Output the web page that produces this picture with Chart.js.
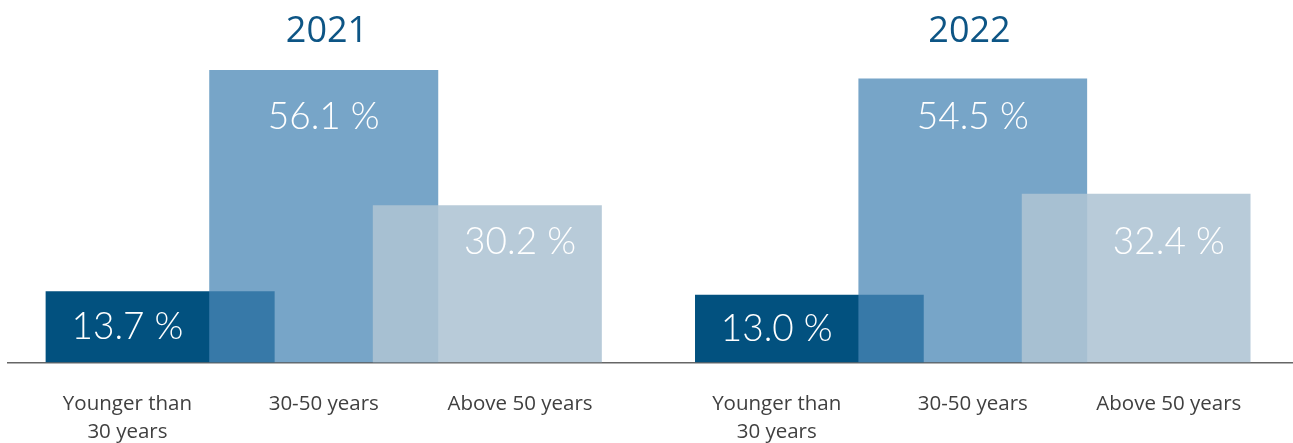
<!DOCTYPE html>
<html>
<head>
<meta charset="utf-8">
<title>Employees by age group</title>
<script src="https://cdn.jsdelivr.net/npm/chart.js@4.4.1/dist/chart.umd.min.js"></script>
<style>
  html, body { margin: 0; padding: 0; background: #fff; }
  #wrap { display: flex; width: 1293px; height: 443px; }
  .box { position: relative; height: 443px; }
  #box2021 { width: 646px; }
  #box2022 { width: 647px; }
</style>
</head>
<body>
<div id="wrap">
  <div class="box" id="box2021"><canvas id="chart2021"></canvas></div>
  <div class="box" id="box2022"><canvas id="chart2022"></canvas></div>
</div>
<script>
// data
const years = ["2021", "2022"];
const ageGroups = [["Younger than", "30 years"], ["30-50 years"], ["Above 50 years"]];
const share2021 = [13.7, 56.1, 30.2];
const share2022 = [13.0, 54.5, 32.4];

// dark solid, then two see-through blues laid over it
const barColors = ["#02517f", "rgba(74,135,182,0.75)", "rgba(174,196,212,0.875)"];
const BAR_RATIO = 1.4; // bars wider than their slot -> they overlap

// labels sit in the middle of the part of each bar that is not covered
function visibleCenter(i, n) {
  const s = (BAR_RATIO - 1) / 2;
  if (i === 0) return i - s;
  if (i === n - 1) return i + s;
  return i;
}

// value labels of the tall bars line up across both years
const groupMean = share2021.map((v, i) => (v + share2022[i]) / 2);

const barLabels = {
  id: "barLabels",
  afterDatasetsDraw(chart) {
    const { ctx } = chart;
    const x = chart.scales.x;
    const y = chart.scales.y;
    const meta = chart.getDatasetMeta(0);
    const pts = chart.data.datasets[0].data;
    ctx.save();
    ctx.fillStyle = "#ffffff";
    ctx.font = "300 37px Lato";
    ctx.textAlign = "center";
    ctx.textBaseline = "middle";
    meta.data.forEach((bar, i) => {
      const cx = x.getPixelForValue(visibleCenter(i, pts.length));
      const cy = i === 0 ? (bar.y + bar.base) / 2 : y.getPixelForValue(groupMean[i]) + 43;
      ctx.fillText(pts[i].y.toFixed(1) + " %", cx, cy);
    });
    ctx.restore();
  }
};

function makeChart(id, year, values, xMin, xMax, padLeft) {
  return new Chart(document.getElementById(id), {
    type: "bar",
    data: {
      datasets: [{
        data: values.map((v, i) => ({ x: i, y: v })),
        backgroundColor: barColors,
        borderWidth: 0,
        categoryPercentage: 1,
        barPercentage: BAR_RATIO,
      }],
    },
    options: {
      responsive: true,
      maintainAspectRatio: false,
      animation: false,
      layout: { padding: { left: padLeft, right: 0, top: 0, bottom: -31 } },
      plugins: {
        legend: { display: false },
        tooltip: { enabled: false },
        title: {
          display: true,
          text: year,
          color: "#0d5585",
          font: { family: "'Open Sans'", size: 36, weight: "normal", lineHeight: 1.2 },
          padding: { top: 10, bottom: 7 },
        },
      },
      scales: {
        x: {
          type: "linear",
          offset: false,
          min: xMin,
          max: xMax,
          grid: { display: false, drawTicks: false },
          border: { display: true, color: "#666666", width: 1.5 },
          afterBuildTicks: (scale) => {
            scale.ticks = ageGroups.map((_, i) => ({ value: visibleCenter(i, ageGroups.length) }));
          },
          ticks: {
            autoSkip: false,
            maxRotation: 0,
            padding: 27,
            color: "#404040",
            font: { family: "'Open Sans'", size: 20.5, lineHeight: 1.4 },
            callback: (v, i) => ageGroups[i],
          },
        },
        y: { display: false, min: 0, max: 58 },
      },
    },
    plugins: [barLabels],
  });
}

makeChart("chart2021", years[0], share2021, -0.93, 2.97, 8);
makeChart("chart2022", years[1], share2022, -1.0, 2.96, 0);
</script>
</body>
</html>
